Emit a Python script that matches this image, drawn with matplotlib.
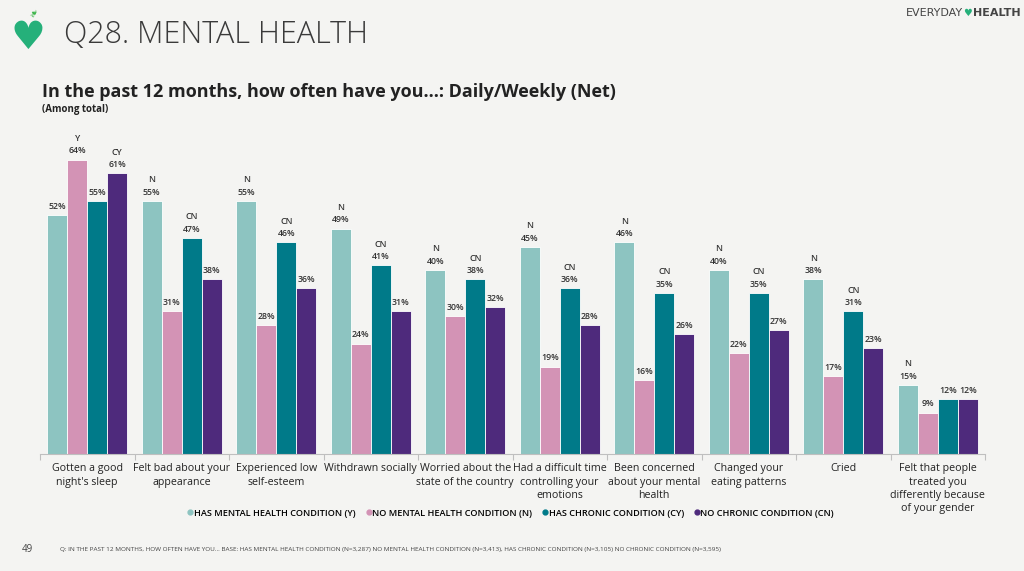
import matplotlib
matplotlib.use("Agg")
import matplotlib.pyplot as plt
import numpy as np

categories = ["Gotten a good\nnight's sleep", "Felt bad about your\nappearance", "Experienced low\nself-esteem",
              "Withdrawn socially", "Worried about the\nstate of the country", "Had a difficult time\ncontrolling your\nemotions",
              "Been concerned\nabout your mental\nhealth", "Changed your\neating patterns", "Cried",
              "Felt that people\ntreated you\ndifferently because\nof your gender"]
series_names = ["HAS MENTAL HEALTH CONDITION (Y)", "NO MENTAL HEALTH CONDITION (N)",
                "HAS CHRONIC CONDITION (CY)", "NO CHRONIC CONDITION (CN)"]
has_mental = [52, 55, 55, 49, 40, 45, 46, 40, 38, 15]
no_mental = [64, 31, 28, 24, 30, 19, 16, 22, 17, 9]
has_chronic = [55, 47, 46, 41, 38, 36, 35, 35, 31, 12]
no_chronic = [61, 38, 36, 31, 32, 28, 26, 27, 23, 12]
sig_has_mental = ["", "N", "N", "N", "N", "N", "N", "N", "N", "N"]
sig_no_mental = ["Y", "", "", "", "", "", "", "", "", ""]
sig_has_chronic = ["", "CN", "CN", "CN", "CN", "CN", "CN", "CN", "CN", ""]
sig_no_chronic = ["CY", "", "", "", "", "", "", "", "", ""]

colors = ["#8dc4c1", "#d393b5", "#007a89", "#4e2a7c"]
bg = "#f4f4f2"

plt.rcParams['font.family'] = ['Open Sans', 'DejaVu Sans']

fig = plt.figure(figsize=(10.24, 5.71), dpi=100, facecolor=bg)
ax = fig.add_axes([40/1024, 1-454/571, 945/1024, 322/571])
ax.set_facecolor(bg)

values = [has_mental, no_mental, has_chronic, no_chronic]
sigs = [sig_has_mental, sig_no_mental, sig_has_chronic, sig_no_chronic]
x = np.arange(len(categories))
w = 0.212
for i, (vals, sg) in enumerate(zip(values, sigs)):
    pos = x + (i - 1.5) * w
    ax.bar(pos, vals, width=w, color=colors[i], edgecolor="white", linewidth=0.6, zorder=2)
    for p, v, s in zip(pos, vals, sg):
        ax.text(p, v + 0.9, f"{v}%", ha="center", va="bottom", fontsize=6.3, fontweight="semibold", color="#333333")
        if s:
            ax.text(p, v + 3.6, s, ha="center", va="bottom", fontsize=6.3, fontweight="semibold", color="#333333")

ax.set_xlim(-0.5, len(categories) - 0.5)
ax.set_ylim(0, 70)
ax.set_yticks([])
for s in ["top", "right", "left"]:
    ax.spines[s].set_visible(False)
ax.spines["bottom"].set_color("#bfbfbf")
ax.set_xticks(np.arange(-0.5, len(categories), 1.0))
ax.set_xticklabels([])
ax.tick_params(axis="x", length=4, color="#bfbfbf")
for xi, c in zip(x, categories):
    ax.text(xi, -2.0, c, ha="center", va="top", fontsize=7.7, color="#222222", linespacing=1.3)

# legend
handles = [plt.Line2D([], [], marker="o", linestyle="", markersize=3.5, color=c) for c in colors]
fig.legend(handles, series_names, loc="center", bbox_to_anchor=(510/1024, 1-513/571), ncol=4, frameon=False,
           handletextpad=-0.1, columnspacing=0.9, handlelength=1.0,
           prop={'family': ['Open Sans', 'DejaVu Sans'], 'size': 6.6, 'weight': 'semibold'})

# header
fig.text(64/1024, 1-35/571, "Q28. MENTAL HEALTH", fontsize=22, color="#3a3a3a", va="center", ha="left",
         fontweight="light")
fig.text(28/1024, 1-38/571, "\u2665", fontsize=28, color="#25b07a", va="center", ha="center", family="DejaVu Sans")
fig.text(35/1024, 1-13/571, "\u2767", fontsize=8, color="#3cb54a", va="center", ha="center", family="DejaVu Sans", rotation=60)
fig.text(963/1024, 1-13/571, "EVERYDAY", fontsize=8, color="#444444", va="center", ha="right", family="DejaVu Sans")
fig.text(968/1024, 1-13/571, "\u2665", fontsize=7, color="#25b07a", va="center", ha="center", family="DejaVu Sans")
fig.text(973/1024, 1-13/571, "HEALTH", fontsize=8, color="#444444", va="center", ha="left", family="DejaVu Sans",
         fontweight="bold")
fig.text(42/1024, 1-92/571, "In the past 12 months, how often have you...: Daily/Weekly (Net)", fontsize=13,
         fontweight="bold", color="#222222", va="center", ha="left")
fig.text(42/1024, 1-110/571, "(Among total)", fontsize=7, fontweight="bold", color="#222222", va="center", ha="left")
fig.text(22/1024, 1-549/571, "49", fontsize=7, color="#444444", va="center", ha="left")
fig.text(60/1024, 1-549/571,
         "Q: IN THE PAST 12 MONTHS, HOW OFTEN HAVE YOU... BASE: HAS MENTAL HEALTH CONDITION (N=3,287) NO MENTAL HEALTH CONDITION (N=3,413), HAS CHRONIC CONDITION (N=3,105) NO CHRONIC CONDITION (N=3,595)",
         fontsize=4.6, color="#444444", va="center", ha="left")

fig.savefig("out.png", dpi=100, facecolor=bg)
